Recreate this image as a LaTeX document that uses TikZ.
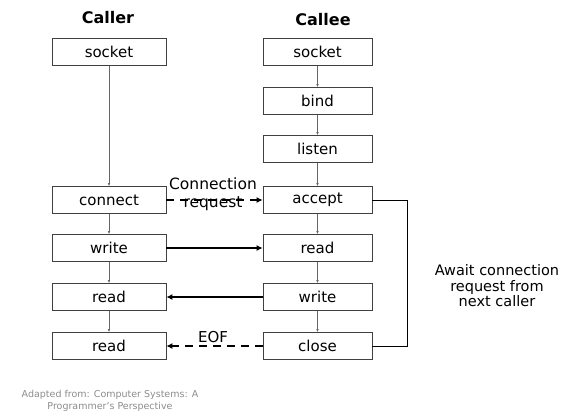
\documentclass[tikz,border=0pt]{standalone}
\usepackage{fontspec}
\setmainfont{DejaVu Sans}
\usetikzlibrary{arrows.meta}

\tikzset{
  callbox/.style={draw=black!75, line width=0.7pt, minimum height=27pt, inner sep=0pt,
    font=\fontsize{15}{18}\selectfont},
  leftbox/.style={callbox, minimum width=114pt},
  rightbox/.style={callbox, minimum width=109pt},
  title/.style={font=\fontsize{16}{18}\selectfont\bfseries},
  flow/.style={draw=black!60, line width=0.6pt, -{Latex[length=3pt,width=2.5pt]}},
  msg/.style={line width=1.8pt, -{Latex[length=6pt,width=6pt]}},
  note/.style={font=\fontsize{15}{16}\selectfont, align=center}
}

\begin{document}
\begin{tikzpicture}[x=1pt,y=-1pt]
  \useasboundingbox (0,0) rectangle (564,413);

  % titles
  \node[title] (caller) at (108,18) {Caller};
  \node[title] (callee) at (323,20) {Callee};

  % caller side
  \node[leftbox] (csocket)  at (109,52)  {socket};
  \node[leftbox] (cconnect) at (109,200) {connect};
  \node[leftbox] (cwrite)   at (109,248) {write};
  \node[leftbox] (cread)    at (109,297) {read};
  \node[leftbox] (cread2)   at (109,346) {read};

  % callee side
  \node[rightbox] (ssocket) at (317.5,52)  {socket};
  \node[rightbox] (sbind)   at (317.5,101) {bind};
  \node[rightbox] (slisten) at (317.5,149) {listen};
  \node[rightbox] (saccept) at (317.5,200) {accept};
  \node[rightbox] (sread)   at (317.5,248) {read};
  \node[rightbox] (swrite)  at (317.5,297) {write};
  \node[rightbox] (sclose)  at (317.5,346) {close};

  \draw[flow] (csocket) -- (cconnect);
  \draw[flow] (cconnect) -- (cwrite);
  \draw[flow] (cwrite) -- (cread);
  \draw[flow] (cread) -- (cread2);

  \draw[flow] (ssocket) -- (sbind);
  \draw[flow] (sbind) -- (slisten);
  \draw[flow] (slisten) -- (saccept);
  \draw[flow] (saccept) -- (sread);
  \draw[flow] (sread) -- (swrite);
  \draw[flow] (swrite) -- (sclose);

  % messages between the two sides
  \draw[msg, dash pattern=on 8pt off 6pt] (cconnect) -- (saccept);
  \draw[msg] (cwrite) -- (sread);
  \draw[msg] (swrite) -- (cread);
  \draw[msg, dash pattern=on 8pt off 6pt] (sclose) -- (cread2);

  \node[note, font=\fontsize{15.5}{18}\selectfont] (connreq) at (213,194) {Connection\\request};
  \node[note] (eof) at (213,337) {EOF};

  % back to accept
  \draw[line width=0.6pt] (sclose.east) -- ++(35,0) |- (saccept.east);
  \node[note, font=\fontsize{14.5}{15.5}\selectfont] (await) at (497,286)
    {Await connection\\request from\\next caller};

  \node[note, font=\fontsize{9.5}{11.5}\selectfont, text=black!45] (src) at (110,401)
    {Adapted from: Computer Systems: A\\Programmer's Perspective};
\end{tikzpicture}
\end{document}
